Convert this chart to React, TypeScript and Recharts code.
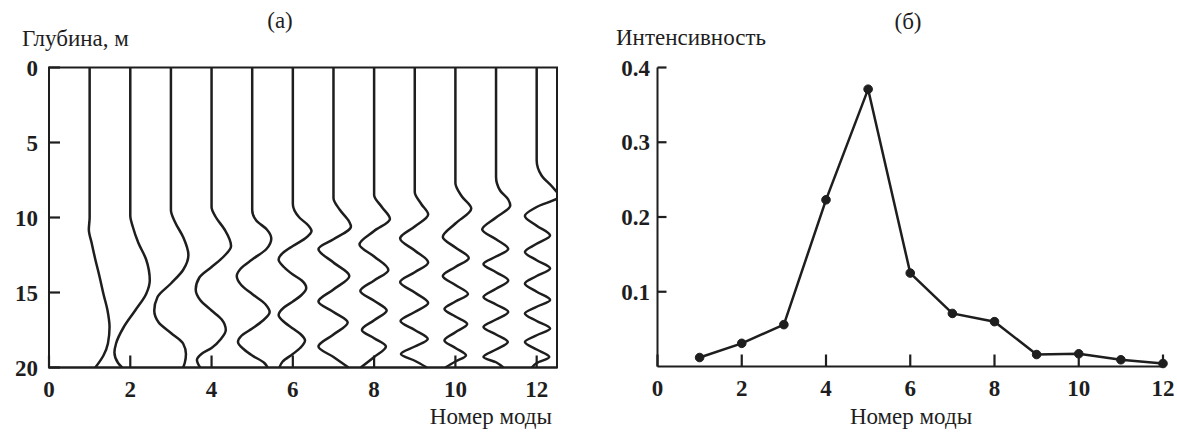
import React from 'react';
import { LineChart, Line, XAxis, YAxis, ReferenceArea } from 'recharts';

// (а) normal modes: [depth, m ; displacement from the mode number]
const mode1 = [[0, 0], [10, 0], [10.8, -0.02], [11.7, 0.05], [12.8, 0.14], [13.9, 0.24], [15.1, 0.34], [16.2, 0.44], [17.3, 0.49], [18.4, 0.45], [19.2, 0.34], [20, 0.14]];
const mode2 = [[0, 0], [9.9, 0], [10.6, 0.06], [11.7, 0.2], [12.8, 0.39], [14.2, 0.48], [15.1, 0.39], [16.2, 0.12], [17.3, -0.16], [18.4, -0.35], [19.0, -0.39], [19.7, -0.3], [20, -0.2]];
const mode3 = [[0, 0], [9.5, 0], [10.3, 0.1], [11.3, 0.3], [12.5, 0.43], [13.5, 0.3], [14.4, 0], [15.3, -0.33], [16.2, -0.41], [17.0, -0.3], [17.7, 0], [18.4, 0.3], [19.1, 0.37], [19.7, 0.34], [20, 0.3]];
const mode4 = [[0, 0], [9.3, 0], [10.0, 0.11], [10.8, 0.32], [11.9, 0.48], [12.6, 0.3], [13.3, 0], [14.0, -0.3], [14.8, -0.39], [15.5, -0.28], [16.2, 0], [16.8, 0.25], [17.5, 0.35], [18.1, 0.23], [18.7, 0], [19.1, -0.25], [19.5, -0.36], [20, -0.28]];
const mode5 = [[0, 0], [9.5, 0], [10.2, 0.1], [10.8, 0.36], [11.4, 0.47], [12.1, 0.35], [12.8, 0], [13.4, -0.28], [13.9, -0.38], [14.5, -0.27], [15.1, 0], [15.8, 0.33], [16.3, 0.43], [16.9, 0.25], [17.4, 0], [17.9, -0.27], [18.3, -0.35], [18.8, -0.2], [19.2, 0], [19.7, 0.3], [20, 0.38]];
const mode6 = [[0, 0], [9.1, 0], [10.0, 0.16], [10.5, 0.37], [10.9, 0.46], [11.4, 0.3], [11.9, 0], [12.3, -0.22], [12.8, -0.35], [13.3, -0.22], [13.8, 0], [14.2, 0.22], [14.7, 0.33], [15.2, 0.2], [15.6, 0], [16.0, -0.22], [16.5, -0.35], [17.0, -0.2], [17.4, 0], [17.8, 0.2], [18.2, 0.3], [18.7, 0.18], [19.1, 0], [19.6, -0.25], [20, -0.33]];
const mode7 = [[0, 0], [8.7, 0], [9.5, 0.16], [10.3, 0.39], [10.6, 0.43], [11.45, 0], [12.1, -0.37], [13.0, 0], [13.9, 0.39], [14.8, 0], [15.6, -0.37], [16.3, 0], [17.0, 0.35], [17.8, 0], [18.6, -0.37], [19.3, 0], [20, 0.37]];
const mode8 = [[0, 0], [8.5, 0], [9.3, 0.19], [10.1, 0.39], [10.9, 0], [11.8, -0.36], [12.6, 0], [13.5, 0.35], [14.2, 0], [14.9, -0.34], [15.55, 0], [16.2, 0.31], [16.85, 0], [17.5, -0.3], [18.05, 0], [18.6, 0.29], [19.3, 0], [20, -0.33]];
const mode9 = [[0, 0], [8.3, 0], [9.1, 0.16], [9.8, 0.33], [10.6, 0], [11.4, -0.36], [12.2, 0], [13.0, 0.33], [13.65, 0], [14.3, -0.36], [15.0, 0], [15.7, 0.33], [16.3, 0], [16.9, -0.35], [17.5, 0], [18.1, 0.32], [18.6, 0], [19.1, -0.34], [19.55, 0], [20, 0.3]];
const mode10 = [[0, 0], [7.7, 0], [8.6, 0.16], [9.4, 0.39], [10.4, 0], [11.3, -0.31], [12.0, 0], [12.7, 0.33], [13.3, 0], [13.9, -0.31], [14.5, 0], [15.1, 0.31], [15.6, 0], [16.1, -0.27], [16.6, 0], [17.1, 0.29], [17.65, 0], [18.2, -0.27], [18.7, 0], [19.2, 0.26], [19.6, 0], [20, -0.25]];
const mode11 = [[0, 0], [7.3, 0], [8.2, 0.1], [8.8, 0.3], [9.2, 0.35], [10.0, 0], [10.8, -0.34], [11.45, 0], [12.1, 0.3], [12.6, 0], [13.1, -0.31], [13.65, 0], [14.2, 0.3], [14.75, 0], [15.3, -0.31], [15.8, 0], [16.3, 0.3], [16.8, 0], [17.3, -0.31], [17.8, 0], [18.3, 0.29], [18.8, 0], [19.3, -0.31], [19.65, 0], [20, 0.18]];
const mode12 = [[0, 0], [6.2, 0], [7.2, 0.12], [8.0, 0.4], [8.6, 0.55], [9.3, 0], [9.9, -0.29], [10.55, 0], [11.2, 0.33], [11.75, 0], [12.3, -0.29], [12.85, 0], [13.4, 0.33], [13.9, 0], [14.4, -0.29], [14.95, 0], [15.5, 0.33], [15.95, 0], [16.4, -0.29], [16.9, 0], [17.4, 0.33], [17.85, 0], [18.3, -0.29], [18.8, 0], [19.3, 0.31], [19.7, 0], [20, -0.12]];
const modeShapes = [mode1, mode2, mode3, mode4, mode5, mode6, mode7, mode8, mode9, mode10, mode11, mode12];

// (б) intensity per mode
const modeNumbers = [1, 2, 3, 4, 5, 6, 7, 8, 9, 10, 11, 12];
const intensity = [0.012, 0.031, 0.056, 0.223, 0.371, 0.125, 0.071, 0.06, 0.016, 0.017, 0.009, 0.004];

const depthTicks = [0, 5, 10, 15, 20];
const modeTicks = [0, 2, 4, 6, 8, 10, 12];
const intensityTicks = [0.1, 0.2, 0.3, 0.4];

const INK = '#1e1e1e';
const FONT = '"Liberation Serif", "Times New Roman", serif';
const lineStyle = { stroke: INK, strokeWidth: 2 };

const modeCurves = modeShapes.map((shape, i) =>
  shape.map(([depth, amp]) => ({ depth, x: i + 1 + amp }))
);
const intensityData = modeNumbers.map((mode, i) => ({ mode, value: intensity[i] }));

const labelStyle = { fontFamily: FONT, fontSize: 23, fill: INK };

// ticks point into the plot, so the mark is drawn together with the label
const BottomTick = ({ x, y, payload, len }: any) => (
  <g>
    <path d={`M${x},${y}V${y - len}`} stroke={INK} strokeWidth={2.2} fill="none" />
    <text x={x} y={y + 29.5} textAnchor="middle" fontFamily={FONT} fontSize={23} fontWeight="bold" fill={INK}>
      {payload.value}
    </text>
  </g>
);

const LeftTick = ({ x, y, payload, len, gap }: any) => (
  <g>
    <path d={`M${x},${y}H${x + len}`} stroke={INK} strokeWidth={2.2} fill="none" />
    <text x={x - gap} y={y + 8} textAnchor="end" fontFamily={FONT} fontSize={23} fontWeight="bold" fill={INK}>
      {payload.value}
    </text>
  </g>
);

export default function App() {
  return (
    <div style={{ position: 'absolute', left: 0, top: 0, width: 1177, height: 434, background: '#fff' }}>
      <div style={{ position: 'absolute', left: 0, top: 0 }}>
        <LineChart
          layout="vertical"
          width={600}
          height={434}
          margin={{ top: 67.5, right: 43, bottom: 26.5, left: 9 }}
        >
          <XAxis
            type="number"
            dataKey="x"
            domain={[0, 12.5]}
            ticks={modeTicks}
            interval={0}
            allowDataOverflow
            height={40}
            tickSize={0}
            tickMargin={0}
            tickLine={false}
            tick={(p: any) => <BottomTick {...p} len={12} />}
            axisLine={lineStyle}
          />
          <YAxis
            type="number"
            dataKey="depth"
            domain={[0, 20]}
            ticks={depthTicks}
            interval={0}
            width={40}
            tickSize={0}
            tickMargin={0}
            tickLine={false}
            tick={(p: any) => <LeftTick {...p} len={11} gap={11} />}
            axisLine={lineStyle}
          />
          <ReferenceArea x1={0} x2={12.5} y1={0} y2={20} fill="none" stroke={INK} strokeWidth={2} ifOverflow="visible" />
          {modeCurves.map((curve, i) => (
            <Line
              key={i}
              data={curve}
              dataKey="x"
              type="monotone"
              stroke={INK}
              strokeWidth={2.5}
              dot={false}
              activeDot={false}
              isAnimationActive={false}
            />
          ))}
        </LineChart>
      </div>

      <div style={{ position: 'absolute', left: 600, top: 0 }}>
        <LineChart
          data={intensityData}
          width={577}
          height={434}
          margin={{ top: 67.5, right: 14, bottom: 27.5, left: 17.5 }}
        >
          <XAxis
            type="number"
            dataKey="mode"
            domain={[0, 12]}
            ticks={modeTicks}
            interval={0}
            height={40}
            tickSize={0}
            tickMargin={0}
            tickLine={false}
            tick={(p: any) => <BottomTick {...p} len={12} />}
            axisLine={lineStyle}
          />
          <YAxis
            type="number"
            domain={[0, 0.4]}
            ticks={intensityTicks}
            interval={0}
            width={40}
            tickSize={0}
            tickMargin={0}
            tickLine={false}
            tick={(p: any) => <LeftTick {...p} len={9} gap={7.5} />}
            axisLine={lineStyle}
          />
          <Line
            dataKey="value"
            type="linear"
            stroke={INK}
            strokeWidth={2.5}
            dot={{ r: 4.3, fill: INK, stroke: INK, strokeWidth: 1 }}
            activeDot={false}
            isAnimationActive={false}
          />
        </LineChart>
      </div>

      <svg width={1177} height={434} style={{ position: 'absolute', left: 0, top: 0, pointerEvents: 'none' }}>
        <text x={280} y={28} textAnchor="middle" {...labelStyle}>(а)</text>
        <text x={22} y={46} {...labelStyle}>Глубина, м</text>
        <text x={552} y={424} textAnchor="end" {...labelStyle}>Номер моды</text>
        <text x={908} y={29} textAnchor="middle" {...labelStyle}>(б)</text>
        <text x={616} y={45} {...labelStyle}>Интенсивность</text>
        <text x={911} y={424} textAnchor="middle" {...labelStyle}>Номер моды</text>
      </svg>
    </div>
  );
}
